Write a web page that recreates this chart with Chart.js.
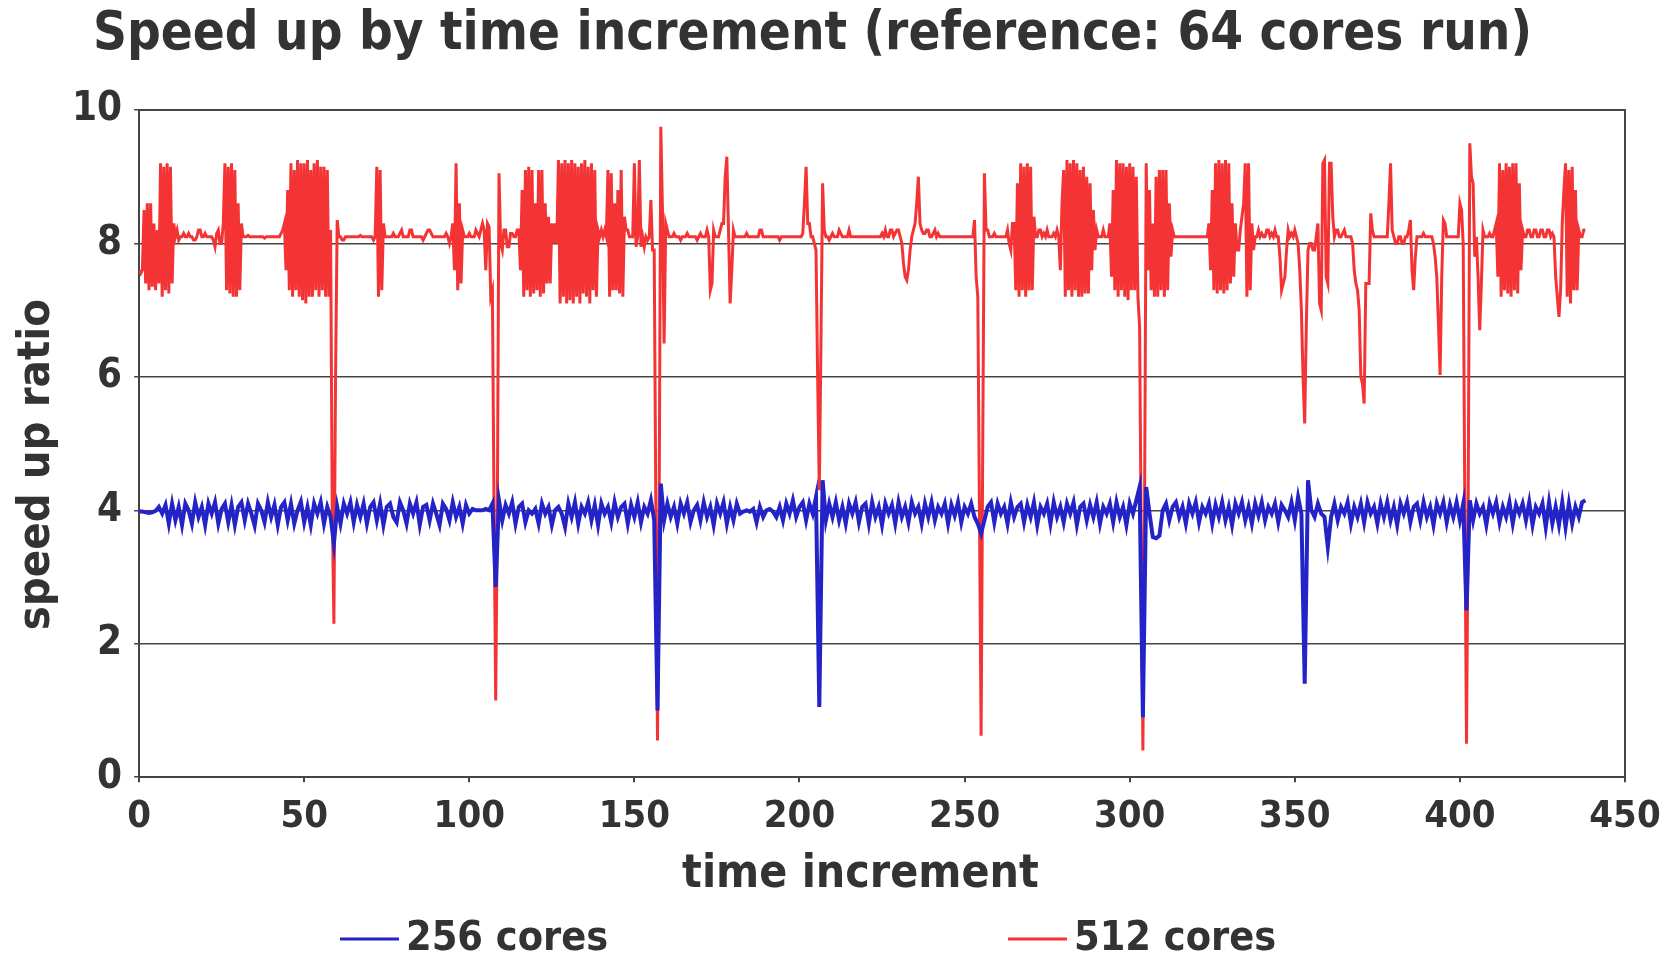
<!DOCTYPE html>
<html>
<head>
<meta charset="utf-8">
<script src="https://cdn.jsdelivr.net/npm/chart.js@4"></script>
<style>
  html, body { margin: 0; padding: 0; background: #fff; }
  #wrap { width: 1668px; height: 955px; position: relative; }
</style>
</head>
<body>
<div id="wrap"><canvas id="speedChart"></canvas></div>
<script>
// 256 cores: one reading per time increment
const STEP_256 = 1;
const cores256 = [
  3.98, 3.98, 3.97, 3.96, 3.97, 3.99, 4.05, 3.95, 4.08, 3.8,
  4.1, 3.85, 4.05, 3.78, 4.1, 4.0, 3.8, 4.12, 3.9, 4.05,
  3.78, 4.1, 3.95, 4.12, 3.8, 4.02, 4.1, 3.82, 4.08, 3.78,
  4.05, 4.12, 3.85, 4.1, 3.95, 3.77, 4.1, 4.0, 3.82, 4.12,
  3.9, 4.08, 3.78, 4.05, 4.12, 3.85, 4.1, 3.8, 4.0, 4.13,
  3.82, 4.05, 3.78, 4.1, 3.95, 4.12, 3.8, 4.05, 3.9, 3.5,
  4.05, 3.8, 4.1, 3.95, 4.12, 3.82, 4.08, 3.9, 4.1, 3.8,
  4.05, 4.12, 3.85, 4.1, 3.78, 4.05, 4.1, 3.9, 3.82, 4.12,
  4.0, 3.8, 4.1, 3.95, 4.12, 3.78, 4.05, 4.08, 3.85, 4.1,
  3.95, 3.78, 4.1, 4.02, 3.85, 4.12, 3.9, 4.05, 3.8, 4.08,
  3.95, 4.02, 4.0, 4.0, 4.0, 4.02, 4.0, 4.1, 2.85, 4.15,
  3.85, 4.08, 3.95, 4.12, 3.8, 4.05, 4.1, 3.82, 4.0, 3.95,
  4.02, 3.8, 4.1, 3.95, 4.05, 3.78, 4.0, 4.05, 3.95, 3.75,
  4.1, 3.9, 4.12, 3.8, 4.05, 3.95, 4.12, 3.85, 4.08, 3.78,
  4.1, 3.95, 4.05, 3.82, 4.12, 3.9, 4.05, 4.1, 3.8, 4.08,
  3.9, 4.12, 3.82, 4.05, 3.95, 4.15, 3.85, 1.0, 4.4, 3.85,
  4.1, 3.9, 4.05, 3.8, 4.1, 3.95, 4.12, 3.82, 4.0, 4.08,
  3.85, 4.12, 3.9, 4.05, 3.78, 4.1, 3.95, 4.12, 3.8, 4.05,
  3.85, 4.1, 3.95, 3.98, 4.0, 3.98, 4.02, 3.82, 4.05, 3.9,
  4.0, 4.02, 3.98, 3.9, 4.05, 3.85, 4.1, 3.95, 4.15, 3.9,
  4.05, 4.12, 3.85, 4.1, 3.95, 4.2, 1.05, 4.45, 3.85, 4.1,
  3.9, 4.12, 3.85, 4.05, 3.8, 4.1, 3.95, 4.12, 3.82, 4.05,
  4.1, 3.8, 4.12, 3.9, 4.05, 3.78, 4.1, 3.95, 4.08, 3.8,
  4.12, 3.9, 4.05, 3.82, 4.12, 3.95, 4.05, 3.8, 4.1, 3.9,
  4.12, 3.85, 4.05, 3.95, 4.1, 3.8, 4.08, 3.92, 4.12, 3.82,
  4.05, 3.95, 4.1, 3.9, 3.8, 3.65, 3.85, 4.05, 4.12, 3.82,
  4.1, 3.95, 4.05, 3.8, 4.12, 3.9, 4.05, 4.1, 3.82, 4.08,
  3.9, 4.12, 3.78, 4.05, 3.95, 4.1, 3.8, 4.12, 3.9, 4.05,
  3.82, 4.1, 3.95, 4.12, 3.78, 4.05, 4.1, 3.85, 4.08, 3.9,
  4.12, 3.8, 4.05, 3.95, 4.1, 3.82, 4.12, 3.9, 4.05, 3.78,
  4.1, 3.95, 4.15, 4.35, 0.9, 4.35, 3.95, 3.6, 3.58, 3.62,
  4.0, 4.1, 3.85, 4.05, 4.12, 3.9, 4.05, 3.8, 4.1, 3.95,
  4.12, 3.82, 4.05, 3.95, 4.1, 3.8, 4.08, 3.9, 4.12, 3.85,
  4.05, 3.78, 4.1, 3.95, 4.12, 3.85, 4.05, 3.8, 4.1, 3.92,
  4.12, 3.85, 4.05, 3.95, 4.1, 3.82, 4.08, 4.0, 3.9, 4.12,
  3.85, 4.2, 3.95, 1.4, 4.45, 4.0, 3.9, 4.1, 3.95, 3.9,
  3.45, 3.9, 4.1, 3.85, 4.05, 3.95, 4.12, 3.8, 4.05, 3.9,
  4.1, 3.82, 4.12, 3.95, 4.05, 3.8, 4.1, 3.9, 4.12, 3.85,
  4.05, 3.78, 4.1, 3.95, 4.12, 3.82, 4.05, 4.1, 3.85, 4.12,
  3.9, 4.05, 3.78, 4.1, 3.95, 4.12, 3.82, 4.08, 3.9, 4.12,
  3.85, 4.1, 2.5, 4.15, 3.85, 4.1, 3.95, 4.05, 3.78, 4.1,
  3.95, 4.12, 3.82, 4.05, 3.9, 4.12, 3.8, 4.08, 3.95, 4.1,
  3.85, 4.12, 3.78, 4.05, 3.95, 4.1, 3.75, 4.12, 3.8, 4.05,
  3.78, 4.12, 3.75, 4.1, 3.8, 4.05, 3.9, 4.12, 4.15
];

// 512 cores: two readings per time increment (each row = 5 increments)
const STEP_512 = 0.5;
const cores512 = [
  7.6, 7.55, 7.6, 8.5, 7.4, 8.6, 7.3, 8.6, 7.35, 8.3,
  7.3, 8.2, 7.4, 9.2, 7.2, 9.15, 7.3, 9.2, 7.25, 9.15,
  7.4, 8.3, 8.1, 8.2, 8.05, 8.1, 8.1, 8.15, 8.1, 8.1,
  8.15, 8.1, 8.1, 8.05, 8.05, 8.1, 8.2, 8.2, 8.1, 8.1,
  8.15, 8.1, 8.1, 8.1, 8.1, 8.05, 7.95, 8.15, 8.2, 8.0,
  8.0, 8.3, 9.2, 7.3, 9.15, 7.25, 9.2, 7.2, 9.1, 7.2,
  8.6, 7.3, 8.3, 8.1, 8.1, 8.1, 8.12, 8.1, 8.1, 8.1,
  8.1, 8.1, 8.1, 8.1, 8.1, 8.1, 8.08, 8.1, 8.1, 8.1,
  8.1, 8.1, 8.1, 8.1, 8.1, 8.1, 8.15, 8.2, 8.3, 7.6,
  8.8, 7.3, 9.2, 7.2, 9.1, 7.3, 9.25, 7.2, 9.2, 7.15,
  9.2, 7.1, 9.25, 7.2, 9.1, 7.2, 9.2, 7.3, 9.25, 7.2,
  9.15, 7.3, 9.15, 7.2, 9.1, 7.2, 8.2, 4.0, 2.3, 6.0,
  8.35, 8.1, 8.1, 8.05, 8.05, 8.1, 8.1, 8.1, 8.1, 8.1,
  8.1, 8.1, 8.1, 8.1, 8.12, 8.1, 8.1, 8.1, 8.1, 8.1,
  8.1, 8.1, 8.05, 8.1, 9.15, 7.2, 9.1, 7.3, 8.3, 8.1,
  8.1, 8.1, 8.1, 8.1, 8.15, 8.1, 8.1, 8.1, 8.15, 8.2,
  8.1, 8.1, 8.1, 8.1, 8.2, 8.2, 8.1, 8.1, 8.1, 8.1,
  8.1, 8.1, 8.05, 8.1, 8.15, 8.2, 8.2, 8.15, 8.1, 8.1,
  8.1, 8.1, 8.1, 8.1, 8.1, 8.1, 8.15, 8.1, 8.0, 8.1,
  8.3, 7.6, 9.2, 7.3, 8.6, 7.4, 8.2, 8.1, 8.1, 8.1,
  8.15, 8.1, 8.1, 8.1, 8.2, 8.15, 8.1, 8.2, 8.3, 8.2,
  7.6, 8.3, 8.25, 7.2, 7.3, 4.0, 1.15, 4.0, 9.05, 8.0,
  7.9, 8.2, 8.2, 7.95, 7.95, 8.15, 8.15, 8.1, 8.1, 8.2,
  8.2, 7.6, 8.8, 7.2, 9.1, 7.3, 9.15, 7.2, 9.1, 7.25,
  8.6, 7.3, 9.1, 7.2, 9.1, 7.25, 8.6, 7.4, 8.4, 7.4,
  8.3, 8.0, 8.3, 8.0, 9.25, 7.1, 9.2, 7.2, 9.25, 7.1,
  9.2, 7.15, 9.25, 7.1, 9.2, 7.2, 9.15, 7.1, 9.2, 7.25,
  9.25, 7.2, 9.15, 7.1, 9.2, 7.3, 9.1, 7.2, 8.2, 8.1,
  8.2, 8.1, 8.2, 8.1, 9.1, 7.2, 9.05, 7.3, 8.6, 7.3,
  8.8, 7.25, 9.1, 7.2, 8.4, 8.2, 8.2, 8.1, 8.1, 8.1,
  9.2, 7.95, 8.1, 9.25, 7.95, 8.1, 7.95, 8.1, 8.05, 8.1,
  8.65, 7.9, 7.9, 4.0, 0.55, 4.0, 9.75, 8.5, 6.5, 8.3,
  8.2, 8.1, 8.1, 8.1, 8.15, 8.1, 8.1, 8.1, 8.05, 8.1,
  8.1, 8.1, 8.15, 8.1, 8.1, 8.1, 8.1, 8.1, 8.05, 8.1,
  8.15, 8.1, 8.1, 8.1, 8.2, 8.1, 7.3, 7.4, 8.2, 8.1,
  8.1, 8.1, 8.2, 8.3, 8.3, 9.0, 9.3, 8.2, 7.1, 7.6,
  8.2, 8.1, 8.1, 8.1, 8.1, 8.1, 8.1, 8.1, 8.15, 8.1,
  8.1, 8.1, 8.1, 8.1, 8.1, 8.1, 8.2, 8.2, 8.1, 8.1,
  8.1, 8.1, 8.1, 8.1, 8.1, 8.1, 8.1, 8.1, 8.05, 8.1,
  8.1, 8.1, 8.1, 8.1, 8.1, 8.1, 8.1, 8.1, 8.1, 8.1,
  8.1, 8.1, 8.15, 8.6, 9.15, 8.3, 8.3, 8.1, 8.1, 8.0,
  7.9, 6.0, 4.3, 6.5, 8.9, 8.2, 8.1, 8.1, 8.05, 8.1,
  8.15, 8.1, 8.1, 8.1, 8.2, 8.15, 8.1, 8.1, 8.1, 8.1,
  8.2, 8.1, 8.1, 8.1, 8.1, 8.1, 8.1, 8.1, 8.1, 8.1,
  8.1, 8.1, 8.1, 8.1, 8.1, 8.1, 8.1, 8.1, 8.1, 8.1,
  8.15, 8.1, 8.2, 8.1, 8.1, 8.2, 8.2, 8.1, 8.15, 8.2,
  8.2, 8.1, 8.0, 7.7, 7.5, 7.45, 7.6, 7.9, 8.1, 8.2,
  8.3, 8.6, 9.0, 8.3, 8.2, 8.15, 8.15, 8.2, 8.2, 8.1,
  8.1, 8.15, 8.2, 8.1, 8.15, 8.1, 8.1, 8.1, 8.1, 8.1,
  8.1, 8.1, 8.1, 8.1, 8.1, 8.1, 8.1, 8.1, 8.1, 8.1,
  8.1, 8.1, 8.1, 8.1, 8.1, 8.1, 8.35, 7.5, 7.2, 4.0,
  0.62, 5.0, 9.05, 8.2, 8.2, 8.1, 8.1, 8.1, 8.15, 8.1,
  8.1, 8.1, 8.1, 8.1, 8.1, 8.1, 8.2, 8.0, 7.9, 8.3,
  8.3, 7.3, 8.9, 7.2, 9.2, 7.3, 9.15, 7.2, 9.2, 7.3,
  9.15, 7.3, 8.4, 8.1, 8.1, 8.2, 8.2, 8.1, 8.15, 8.1,
  8.2, 8.1, 8.1, 8.1, 8.15, 8.1, 8.2, 8.1, 7.6, 8.6,
  9.1, 7.2, 9.25, 7.3, 9.2, 7.2, 9.25, 7.3, 9.2, 7.2,
  9.1, 7.2, 9.15, 7.25, 9.0, 7.25, 8.9, 7.6, 8.5, 7.9,
  8.2, 8.1, 8.1, 8.1, 8.2, 8.1, 8.1, 8.1, 8.3, 7.5,
  8.8, 7.3, 9.25, 7.2, 9.2, 7.3, 9.2, 7.2, 9.15, 7.15,
  9.2, 7.3, 9.15, 7.3, 9.0, 7.2, 6.75, 3.5, 0.4, 4.0,
  9.2, 7.6, 8.8, 7.3, 8.3, 7.2, 9.0, 7.2, 9.1, 7.3,
  9.1, 7.2, 9.1, 7.3, 8.6, 7.8, 8.2, 8.1, 8.1, 8.1,
  8.1, 8.1, 8.1, 8.1, 8.1, 8.1, 8.1, 8.1, 8.1, 8.1,
  8.1, 8.1, 8.1, 8.1, 8.1, 8.1, 8.1, 8.1, 8.3, 7.6,
  8.8, 7.3, 9.2, 7.25, 9.25, 7.3, 9.2, 7.25, 9.25, 7.3,
  9.2, 7.4, 8.6, 7.5, 8.3, 7.9, 7.9, 8.2, 8.4, 8.6,
  9.2, 7.2, 9.2, 7.3, 8.3, 7.9, 8.1, 8.1, 8.2, 8.1,
  8.15, 8.1, 8.1, 8.2, 8.2, 8.1, 8.15, 8.1, 8.2, 8.1,
  8.1, 7.8, 7.3, 7.4, 7.5, 7.9, 8.2, 8.1, 8.15, 8.1,
  8.2, 8.1, 8.0, 7.6, 7.0, 6.0, 5.3, 6.8, 7.9, 8.0,
  8.0, 7.9, 7.9, 8.1, 8.3, 7.1, 7.0, 9.2, 9.25, 7.5,
  7.4, 9.2, 9.2, 8.4, 8.1, 8.2, 8.2, 8.1, 8.1, 8.15,
  8.2, 8.1, 8.1, 8.1, 8.1, 8.0, 7.6, 7.4, 7.3, 7.0,
  6.0, 5.9, 5.6, 7.4, 7.4, 7.4, 8.45, 8.2, 8.1, 8.1,
  8.1, 8.1, 8.1, 8.1, 8.1, 8.1, 8.1, 8.6, 9.2, 8.2,
  8.1, 8.0, 8.0, 8.1, 8.1, 8.0, 8.0, 8.1, 8.1, 8.2,
  8.35, 7.6, 7.3, 7.8, 8.1, 8.1, 8.1, 8.1, 8.15, 8.1,
  8.1, 8.1, 8.1, 8.1, 8.0, 7.8, 7.5, 6.8, 6.03, 7.5,
  8.35, 8.3, 8.1, 8.1, 8.1, 8.1, 8.1, 8.1, 8.1, 8.1,
  8.6, 8.5, 8.0, 4.0, 0.5, 4.0, 9.5, 9.0, 8.9, 7.8,
  8.1, 7.5, 6.7, 7.4, 8.2, 8.1, 8.1, 8.1, 8.15, 8.1,
  8.1, 8.2, 8.3, 7.5, 9.2, 7.2, 9.1, 7.3, 9.2, 7.25,
  9.15, 7.2, 9.2, 7.3, 9.2, 7.25, 8.9, 7.6, 8.2, 8.1,
  8.1, 8.2, 8.2, 8.1, 8.1, 8.2, 8.2, 8.1, 8.1, 8.2,
  8.2, 8.1, 8.1, 8.2, 8.2, 8.1, 8.15, 8.1, 7.5, 7.2,
  6.9, 7.3, 8.3, 8.8, 9.2, 7.2, 9.1, 7.1, 9.15, 7.3,
  8.8, 7.3, 8.2, 8.1, 8.1, 8.2, 8.2
];

const seriesLabels = ['256 cores', '512 cores'];
const seriesColors = ['#2323c8', '#f43434'];

const FONT = "'DejaVu Sans Condensed', 'DejaVu Sans', sans-serif";
const TEXT = '#333333';
const FRAME = '#444444';

const toPoints = (arr, step) => arr.map((v, i) => ({ x: i * step, y: v }));

// box round the plot plus a legend spread out like the original
const frameAndLegend = {
    id: 'frameAndLegend',
    afterDraw(chart) {
        const { ctx, chartArea } = chart;
        ctx.save();
        ctx.strokeStyle = FRAME;
        ctx.lineWidth = 2;
        ctx.beginPath();
        ctx.moveTo(chartArea.left, chartArea.top);
        ctx.lineTo(chartArea.right, chartArea.top);
        ctx.lineTo(chartArea.right, chartArea.bottom);
        ctx.stroke();

        const spots = [340, 1008];
        const y = 939;
        ctx.font = `bold 41px ${FONT}`;
        ctx.textBaseline = 'middle';
        ctx.textAlign = 'left';
        chart.data.datasets.forEach((ds, i) => {
            const x = spots[i];
            ctx.strokeStyle = ds.borderColor;
            ctx.lineWidth = 3;
            ctx.beginPath();
            ctx.moveTo(x, y);
            ctx.lineTo(x + 59, y);
            ctx.stroke();
            ctx.fillStyle = TEXT;
            ctx.fillText(ds.label, x + 66, y);
        });
        ctx.restore();
    }
};

new Chart(document.getElementById('speedChart'), {
    type: 'line',
    data: {
        datasets: [
            {
                label: seriesLabels[0],
                data: toPoints(cores256, STEP_256),
                borderColor: seriesColors[0],
                backgroundColor: seriesColors[0],
                borderWidth: 4,
                pointRadius: 0,
                tension: 0
            },
            {
                label: seriesLabels[1],
                data: toPoints(cores512, STEP_512),
                borderColor: seriesColors[1],
                backgroundColor: seriesColors[1],
                borderWidth: 3,
                pointRadius: 0,
                tension: 0
            }
        ]
    },
    options: {
        responsive: true,
        maintainAspectRatio: false,
        animation: false,
        layout: { padding: { left: 0, right: 43, top: 0, bottom: 52 } },
        plugins: {
            legend: { display: false },
            tooltip: { enabled: false },
            title: {
                display: true,
                text: 'Speed up by time increment (reference: 64 cores run)',
                color: TEXT,
                font: { family: FONT, size: 52.5, weight: 'bold' },
                padding: { top: 4, bottom: 43 }
            }
        },
        scales: {
            x: {
                type: 'linear',
                min: 0,
                max: 450,
                ticks: {
                    stepSize: 50,
                    color: TEXT,
                    padding: 7,
                    maxRotation: 0,
                    font: { family: FONT, size: 38, weight: 'bold', lineHeight: 1.47 }
                },
                grid: {
                    drawOnChartArea: false,
                    drawTicks: true,
                    tickLength: 5,
                    color: FRAME,
                    lineWidth: 2
                },
                border: { display: true, color: FRAME, width: 2 },
                title: {
                    display: true,
                    text: 'time increment   ',
                    color: TEXT,
                    font: { family: FONT, size: 46, weight: 'bold', lineHeight: 1.0 },
                    padding: { top: 0, bottom: 5 }
                }
            },
            y: {
                min: 0,
                max: 10,
                ticks: {
                    stepSize: 2,
                    color: TEXT,
                    padding: 12,
                    font: { family: FONT, size: 40, weight: 'bold', lineHeight: 1.0 }
                },
                grid: {
                    color: FRAME,
                    lineWidth: 1.5,
                    drawTicks: true,
                    tickLength: 5
                },
                border: { display: true, color: FRAME, width: 2 },
                title: {
                    display: true,
                    text: 'speed up ratio   ',
                    color: TEXT,
                    font: { family: FONT, size: 45, weight: 'bold', lineHeight: 1.0 },
                    padding: { top: 15, bottom: 0 }
                }
            }
        }
    },
    plugins: [frameAndLegend]
});
</script>
</body>
</html>
